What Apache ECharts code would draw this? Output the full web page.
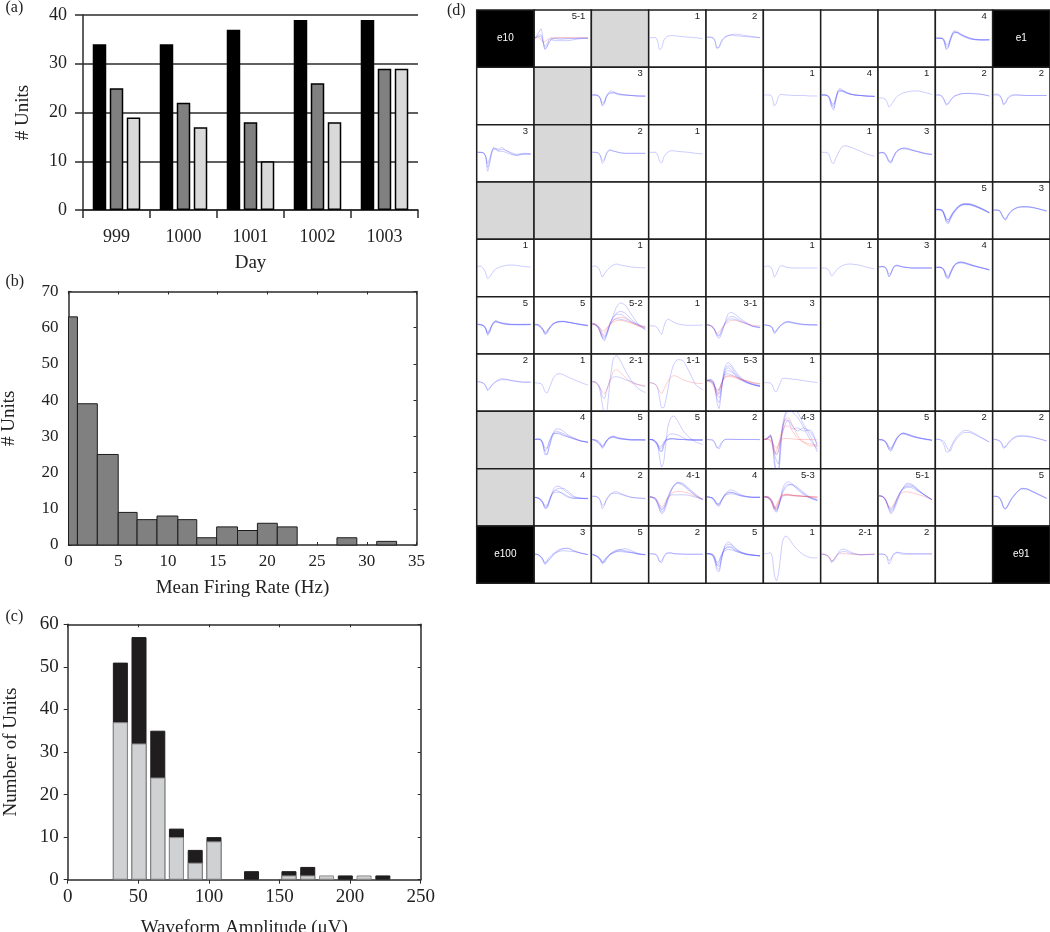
<!DOCTYPE html>
<html>
<head>
<meta charset="utf-8">
<title>Units</title>
<script src="https://cdn.jsdelivr.net/npm/echarts@6/dist/echarts.min.js"></script>
<style>
  html, body { margin: 0; padding: 0; background: #fff; }
  #chart { width: 1050px; height: 932px; }
</style>
</head>
<body>
<div id="chart"></div>
<script>
// (a) units per day
const days = ["999", "1000", "1001", "1002", "1003"];
const dayBlack = [34, 34, 37, 39, 39];
const dayGrey = [25, 22, 18, 26, 29];
const dayLight = [19, 17, 10, 18, 29];

// (b) firing rate histogram, bin edges as drawn in the figure
const rateLow = [0, 0.9, 2.9, 5, 6.9, 8.9, 11, 12.9, 14.9, 17, 19, 21, 27, 31];
const rateHigh = [0.9, 2.9, 5, 6.9, 8.9, 11, 12.9, 14.9, 17, 19, 21, 23, 29, 33];
const rateCounts = [63, 39, 25, 9, 7, 8, 7, 2, 5, 4, 6, 5, 2, 1];

// (c) amplitude histogram
const ampBins = [37.3, 50.5, 63.8, 77, 90.3, 103.6, 130.2, 156.7, 170, 183.3, 196.6, 209.9, 223.2];
const ampLight = [37, 32, 24, 10, 4, 9, 0, 1, 1, 1, 0, 1, 0];
const ampDark = [14, 25, 11, 2, 3, 1, 2, 1, 2, 0, 1, 0, 1];

// (d) electrode grid, "g" is a grey cell, "e.." a black corner cell
const cellLabels = [
  ["e10", "5-1", "g", "1", "2", "", "", "", "4", "e1"],
  ["", "g", "3", "", "", "1", "4", "1", "2", "2"],
  ["3", "g", "2", "1", "", "", "1", "3", "", ""],
  ["g", "g", "", "", "", "", "", "", "5", "3"],
  ["1", "", "1", "", "", "1", "1", "3", "4", ""],
  ["5", "5", "5-2", "1", "3-1", "3", "", "", "", ""],
  ["2", "1", "2-1", "1-1", "5-3", "1", "", "", "", ""],
  ["g", "4", "5", "5", "2", "4-3", "", "5", "2", "2"],
  ["g", "4", "2", "4-1", "4", "5-3", "", "5-1", "", "5"],
  ["e100", "3", "5", "2", "5", "1", "2-1", "2", "", "e91"]
];

// time samples of every waveform, denser around the spike
const sampleX = [1, 4, 7, 9, 11, 13, 15, 17, 19, 22, 25, 29, 34, 40, 47, 54];

// [row, col, amplitude at each sample]
const blueTraces = [
  [0, 1, [0.5, 5, 10, -1, -10, -8, -4, -1, 0, 0.5, 0.5, 0.5, 0.5, 0.5, 0.5, 0.5]],
  [0, 1, [0.5, 2, 2, -4, -11, -8, -3, -1, -1.5, -2, -2, -2, -2, -1, 0, 0.5]],
  [0, 1, [0.5, 3, 4, -3, -8, -5, -1, 0, 0, 0, -0.5, -0.5, 0, 0, 0.5, 0.5]],
  [0, 3, [1, 1, 1, -3, -11, -9, -2, 1, 2.5, 3, 3, 2.5, 2, 1.5, 1, 0]],
  [0, 4, [1.5, 1.5, 1, -2, -9, -9, -4, -1, 1, 3, 3.5, 3, 2.5, 2, 1.5, 1]],
  [0, 4, [1.5, 1.5, 0.5, -3, -10, -8, -3, 0, 2, 3, 4, 4.5, 4, 3, 2, 1]],
  [0, 8, [0.5, 0.5, 0, -3, -11, -9, -1, 5, 8, 7, 5, 3, 1, -0.5, -1, -1]],
  [0, 8, [0.5, 0.5, 0, -2, -8, -7, 0, 5, 7, 6, 4, 2, 0, -1, -1.5, -1]],
  [0, 8, [0.5, 0.5, 0.5, -1, -6, -5, -1, 4, 6, 6, 4.5, 2.5, 0.5, -1, -1.5, -1.5]],
  [0, 8, [0.5, 0.5, 0, -4, -10, -8, -2, 3, 6, 6, 4, 2, 0, -1, -1, -1]],

  [1, 2, [1, 1, 0, -3, -10, -8, -1, 3, 5, 4.5, 3, 2, 1, 0.5, 0, 0]],
  [1, 2, [1, 1, 0.5, -2, -7, -6, -1, 2, 3, 3, 2.5, 1.5, 1, 0.5, 0, -0.5]],
  [1, 2, [1, 1, 0, -3, -9, -6, 0, 2, 3, 3.5, 2, 1, 1, 0.5, 0, 0]],
  [1, 5, [1, 1, 1, -2, -10, -7, -1, 1.5, 1.5, 1, 1, 0.5, 0.5, 0.5, 0, 0]],
  [1, 6, [1, 1, 0, -3, -11, -14, -4, 5, 7.5, 6, 4, 2.5, 1, 0.5, 0, -0.5]],
  [1, 6, [1, 1, 0.5, -2, -8, -12, -5, 3, 5, 5, 4, 2, 1, 0.5, 0, -0.5]],
  [1, 6, [1, 1, 0, -4, -10, -9, -2, 4, 6, 5, 3.5, 2, 1, 0.5, 0, 0]],
  [1, 6, [1, 1, 0.5, -2, -7, -8, -3, 3, 5, 4.5, 3, 2, 1, 0.5, -0.5, -0.5]],
  [1, 7, [-2, -2, -3, -6, -11, -9, -6, -3, -0.5, 1.5, 3, 4, 5, 5, 3.5, 1.5]],
  [1, 8, [1, 1, -1, -5, -9, -7, -4, -2, 0, 1, 2, 2.5, 2.7, 2.5, 1.5, 0]],
  [1, 8, [1, 1, -0.5, -4, -8, -8, -5, -2, -0.5, 1, 2, 2.5, 2.5, 2, 1.5, 0]],
  [1, 9, [1, 2, 1, -3, -9, -6, -2, 0, 1, 1, 1, 0.5, 0.5, 0.5, 0.5, 0.5]],
  [1, 9, [1, 1, 0, -3, -8, -7, -3, -1, 0, 1, 1, 1, 0.5, 0.5, 0.5, 0.5]],

  [2, 0, [1, 1, 0, -4, -18, -10, 1, 5, 5, 4, 6, 3, 1, -1, 0, -0.5]],
  [2, 0, [1, 1, 0.5, -3, -14, -8, 0, 4, 4, 3, 4, 3, 0, -2, -0.5, -0.5]],
  [2, 0, [1, 1, 0, -3, -10, -5, 2, 6, 4, 2, 2, 1, -1, -2, -1, -1]],
  [2, 2, [1, 1, 0.5, -3, -10, -7, 0, 3, 3.5, 2, 1.5, 0.5, 0, 0, 0, 0]],
  [2, 2, [1, 1, 0, -2, -7, -6, -1, 2, 3, 2.5, 1.5, 0.5, 0, 0, 0, 0]],
  [2, 3, [1, 1, 1, -2, -8, -9.5, -4, -1, 1, 2.5, 2.5, 2, 1.5, 1, 0, -0.5]],
  [2, 6, [1, 1, 0.5, -3, -9, -10, -5, -1, 3, 7, 7.5, 6.5, 4.5, 2, -1, -3]],
  [2, 7, [0, 1, 0, -4, -9, -10, -5, -1, 2, 4, 5, 5, 3.5, 2, 0, -1]],
  [2, 7, [0, 0.5, 0, -3, -7, -9, -5, -1, 2, 4, 5.5, 5, 3, 1.5, 0, -1]],
  [2, 7, [0.5, 1, -1, -5, -8, -8, -4, 0, 2.5, 4.5, 4.5, 4, 3, 1.5, -0.5, -1.5]],

  [3, 8, [1, 1, 0, -5, -12, -13, -9, -5, -2, 2, 5, 7, 7, 5, 2, -2]],
  [3, 8, [1, 1, 0.5, -4, -10, -11, -8, -4, -1, 3, 5.5, 6.5, 6.5, 4.5, 1.5, -2]],
  [3, 8, [1.5, 1.5, 0.5, -3, -8, -9, -7, -3, 0, 3.5, 6, 7, 6, 4, 1, -2.5]],
  [3, 8, [1, 1, 0, -4, -10, -12, -7, -3, 0, 3.5, 5, 6, 6, 4, 1.5, -2]],
  [3, 8, [1, 1, -1, -5, -9, -9, -6, -3, -1, 2, 4.5, 6, 6, 5, 1.5, -2]],
  [3, 9, [0.7, 0.7, 0, -4, -8, -9.5, -6, -3, -0.5, 1.5, 3, 4, 4, 3.5, 1.5, -0.5]],
  [3, 9, [0.5, 0.5, -0.5, -4, -7, -8, -5, -2, 0, 2, 3.5, 4, 4, 3, 1.5, -0.5]],
  [3, 9, [0.7, 0.5, 0, -3, -7, -9, -5, -2, 0, 2, 3, 3.5, 3.5, 3, 1.5, 0]],

  [4, 0, [1.7, 1.7, -1, -5, -10.5, -9, -6, -3, -1, 0.5, 1.5, 2.5, 3, 2.5, 1.5, 1]],
  [4, 2, [1.5, 2, 0, -4, -9, -6, -3, -1, 1, 3, 4, 3, 2, 1, 0.5, 0]],
  [4, 5, [1, 2, 1, -2, -9, -6, -1, 2, 2.3, 1, 0.5, 0, 0, 0, 0, 0]],
  [4, 6, [0, 0, -1, -4, -8, -6, -3, -1, 1, 2.5, 3.5, 4, 3.5, 2.5, 0.5, -1]],
  [4, 7, [1, 1.5, 1, -3, -8.5, -6, 0, 2.5, 2.5, 2, 1, 0.5, 0, 0, 0, 0]],
  [4, 7, [1, 1, 0.5, -2, -6, -5, -1, 2, 2, 1.5, 1, 0.5, 0, 0, 0, 0]],
  [4, 7, [1, 1.5, 1, -2, -9, -5, 0, 2, 3, 2, 1, 0.5, 0, 0, 0, 0]],
  [4, 8, [0.5, 0.5, -0.5, -4, -10, -11, -6, -2, 2, 5, 6, 5.5, 4, 2, 0, -2]],
  [4, 8, [0.5, 0.5, 0, -3, -8, -10, -6, -1, 3, 5.5, 6, 5.5, 3.5, 1.5, 0, -1.5]],
  [4, 8, [1, 1, 0, -2, -7, -8, -4, 0, 3, 5, 5.5, 5, 3.5, 2, 0, -2]],
  [4, 8, [0.5, 1, 0, -3, -9, -9, -5, -1, 2.5, 4.5, 5, 4.5, 3, 1.5, 0, -2]],

  [5, 0, [1, 1, 0, -3, -10, -6, -1, 3, 5, 3.5, 2.5, 2, 1, 1, 1, 1]],
  [5, 0, [1, 0.5, -1, -4, -9, -7, -1, 2.5, 4, 3, 2, 1.5, 1, 0.5, 1, 1]],
  [5, 0, [0.5, 0.5, -1, -3, -7, -5, 0, 3, 3, 2.5, 2, 1, 1, 1, 0.5, 1]],
  [5, 0, [1, 0.5, -0.5, -3, -8, -4, 0, 2, 4, 3, 2, 1, 0.5, 0.5, 0.5, 0.5]],
  [5, 1, [1, 0.5, -2, -5, -9.5, -7, -4, -1, 1, 2.5, 3.5, 4, 3.5, 2, 1, 0]],
  [5, 1, [0.5, 0, -3, -5, -8, -8, -4, -1, 1, 3, 4, 4, 3, 2, 0.5, -0.5]],
  [5, 1, [1, 1, -1, -4, -8, -6, -3, -1, 1.5, 3, 3.5, 4, 3, 2, 0.5, -0.5]],
  [5, 1, [0.5, 0, -2, -4, -7, -5, -3, 0, 2, 3, 3.5, 3.5, 3, 2, 1, 0]],
  [5, 2, [1.5, 1, -2, -7, -13, -15.5, -11, -5, 2, 10, 18, 22.5, 20, 11, 1, -4.5]],
  [5, 2, [1.5, 1, -2, -6, -12, -14, -10, -4, 2, 8, 12, 14, 12, 6, 0, -4]],
  [5, 2, [1, 0, -3, -8, -12, -12, -9, -3, 3, 8, 11, 11, 8, 4, 0, -3]],
  [5, 2, [1.5, 1, -1, -4, -9, -11, -8, -3, 1, 5, 6.5, 6, 5, 3, 1, -2]],
  [5, 3, [-0.5, -0.5, -1, -3, -7, -9, -2, 4, 6, 5, 3, 1.5, 0.5, 0, 0, 0.3]],
  [5, 4, [0.5, 0, -2, -6, -11, -13, -10, -4, 3, 11, 13, 11, 7, 3, -1, -2.5]],
  [5, 4, [0.5, 0, -2, -5, -10, -11, -8, -3, 2, 7, 9, 8, 5, 2, -1, -2]],
  [5, 4, [0.5, 0, -2, -5, -9, -10, -6, -2, 2, 5, 6.5, 6, 4, 1.5, -1, -2]],
  [5, 5, [0.5, 0, -1, -3, -8.5, -6, -3, -1, 1, 3, 4, 3, 1.5, 1, 0.5, 0.5]],
  [5, 5, [0.5, 0, -1, -3, -7, -6, -2, -0.5, 1.5, 3.5, 3.5, 2, 1.5, 0.5, 0.5, 0]],
  [5, 5, [0.5, 0, -0.5, -2, -6, -5, -3, 0, 1, 2.5, 3, 3, 2, 1, 0.5, 0.5]],

  [6, 0, [1, 0.5, -1, -4, -8, -6, -3, -1, 1, 3, 4, 3.5, 2, 1, 0.5, 0.5]],
  [6, 0, [1, 0.5, -0.5, -3, -7, -5, -2.5, -0.5, 1, 2, 3, 3, 2.5, 1.5, 0.5, 0.5]],
  [6, 1, [0, -0.5, -1, -4, -9, -10.5, -6, -1, 4, 8, 9, 8, 5.5, 3, 0, -2.5]],
  [6, 2, [1, 0.5, -3, -10, -22, -30, -30, -15, 5, 24, 27, 22, 12, 2, -6, -10]],
  [6, 2, [1, 0.5, -2, -6, -14, -16, -9, -2, 3, 5.5, 6, 5, 3, 1, -2, -4]],
  [6, 3, [0, -0.5, -2, -6, -16, -25, -25, -18, -8, 8, 18, 23, 22, 12, -2, -7]],
  [6, 4, [2.5, 3, 1, -6, -20, -26, -12, 6, 16, 20, 18, 12, 6, 1, -2, -3]],
  [6, 4, [2.5, 2, 0, -6, -16, -20, -10, 4, 13, 17, 16, 10, 5, 1, -2, -3.5]],
  [6, 4, [2, 3, 2, -4, -12, -15, -8, 3, 11, 15, 13, 8, 4, 1, -1, -3]],
  [6, 4, [2, 2, 0, -5, -10, -11, -5, 3, 9, 12, 11, 8, 4, 0.5, -2, -4]],
  [6, 4, [2, 1, -1, -4, -7, -7, -2, 4, 8, 9, 8, 6, 3, 0, -2, -4]],
  [6, 5, [0, 0, -0.5, -2.5, -8, -9, -5, 0, 4, 4.3, 4, 3.5, 3, 2, 1, 0]],

  [7, 1, [0.5, 1, 0, -5, -15, -14, -7, 0, 7, 11, 11, 9, 5, 2, -1, -2.5]],
  [7, 1, [0.5, 1, 0.5, -4, -12, -15, -8, -1, 5, 9, 8, 6.5, 4, 1.5, -1, -2.5]],
  [7, 1, [0.5, 0.5, -0.5, -6, -11, -9, -3, 2, 6, 7, 7, 5, 3, 1, -1, -2]],
  [7, 1, [0.5, 1, 0, -3, -8, -8, -2, 3, 6, 6.5, 6, 4.5, 3, 1, -1, -2]],
  [7, 2, [0.5, -0.5, -3, -5, -8.5, -6, -2, 1, 3, 4, 3, 2, 1, 0.5, 0, 0]],
  [7, 2, [0.5, 0, -2, -4, -7, -5, -1, 1.5, 3, 3.5, 2.5, 1, 1, 0, 0, 0]],
  [7, 2, [0, -1, -3, -5, -7, -4, -1, 1, 2, 3, 2, 1, 0.5, 0, 0.5, 0]],
  [7, 2, [0.5, 0, -1, -3, -6, -4, -1, 1, 2, 2.5, 2, 1.5, 0.5, 0, 0, 0]],
  [7, 3, [0.5, 0, -2, -6, -18, -27, -22, -5, 12, 22, 24, 19, 10, 3, -2, -4.5]],
  [7, 3, [0.5, 0, -2, -5, -11, -12, -7, 0, 4, 6, 6, 5, 2.5, 0, 0, 0]],
  [7, 3, [0.5, 0, -3, -6, -10, -11, -5, -1, 0, 1, 1.5, 1, 0.5, 0, 0, 0]],
  [7, 3, [0.5, 0.5, -1, -4, -9, -8, -4, 0, 1, 1.5, 1, 0.5, 0.5, 0.5, 0, 0]],
  [7, 3, [0.5, 0, -2, -4, -7, -6, -2, 0, 0.5, 1, 1, 0.5, 0.5, 0, 0, 0]],
  [7, 4, [0.5, 0.5, 0, -3, -7, -9, -5, -1, 0.5, 0.7, 0.7, 0.5, 0.5, 0.5, 0.5, 0.5]],
  [7, 4, [0.5, 0, -0.5, -4, -8, -7, -3, -1, 0.5, 0.7, 0.7, 0.5, 0.5, 0.5, 0.5, 0.3]],
  [7, 5, [0.5, 2, 5, -2, -24, -32, -32, -15, 10, 24, 29, 29, 28, 16, 4, -12]],
  [7, 5, [0.5, 1, 5, -2, -18, -30, -30, -8, 14, 27, 30, 28, 23, 13, 0, -9]],
  [7, 5, [0.5, 2, 3, -3, -14, -20, -24, -5, 10, 20, 19, 11, 12, 9, 10, -7]],
  [7, 5, [0.5, 1, 4, -1, -10, -15, -12, 0, 8, 16, 20, 14, 9, 12, 8, -4]],
  [7, 7, [0.5, 0, -1.5, -5, -10, -11.5, -7, -3, 1, 5, 7, 6, 4, 2.5, 1, 0]],
  [7, 7, [0.5, 0, -1, -4, -8, -10, -7, -2, 2, 5.5, 7, 6, 4.5, 2.5, 1, -0.5]],
  [7, 7, [0.5, 0.5, -1, -3, -7, -8, -5, -2, 2, 5, 6.5, 5.5, 3.5, 2, 1, 0]],
  [7, 7, [0, 0, -2, -5, -9, -9, -5, -1, 2.5, 5.5, 6, 5, 3.5, 2, 0.5, -0.5]],
  [7, 8, [0.7, 0.5, -2, -6, -12, -12, -8, -4, 0, 4, 7, 9.5, 9, 6, 2, -2]],
  [7, 8, [0.7, 0.5, -0.5, -2, -6, -10, -11, -6, -2, 2, 5, 7.5, 7.5, 5, 1.5, -2]],
  [7, 9, [0.7, 0.5, -1, -4, -8.5, -6, -4, -2, 0, 2, 3.5, 4, 4, 3, 1, -1]],
  [7, 9, [0.7, 0, -1, -3, -7, -7, -4, -1, 1, 3, 4, 4, 3.5, 2.5, 1, -1]],

  [8, 1, [0, -0.5, -2, -6, -11.5, -10, -5, 1, 7, 11, 11, 8, 4, 0, -1, -1.5]],
  [8, 1, [0, -1, -3, -6, -10, -11, -6, 0, 5, 8, 9, 9, 6, 1, -1, -1.5]],
  [8, 1, [0, -1, -3, -6, -10, -9, -3, 2, 5, 7, 6, 3, 0, -1, -1, -1]],
  [8, 1, [0, -0.5, -3, -5, -8, -8, -4, 1, 4, 5, 5, 4, 1, -1, -1, -1]],
  [8, 2, [1, 1, -1, -4, -11.5, -8, -3, 0, 3, 5, 5.7, 4, 2, 0, -1, -1]],
  [8, 2, [1, 1, 0, -3, -8, -7, -2, 1, 3, 4, 4, 3, 1.5, 0, -0.5, -1.5]],
  [8, 3, [0.5, 0, -2, -6, -13, -16.5, -15, -10, -4, 5, 11, 14.5, 13, 8, 2, -2.5]],
  [8, 3, [0.5, -0.5, -3, -7, -12, -15, -13, -8, -2, 6, 11, 14, 12, 7, 1.5, -2.5]],
  [8, 3, [0.5, 0, -2, -6, -10, -12, -10, -6, -1, 2, 2.5, 2.5, 2.5, 2, 0, -2]],
  [8, 3, [0.5, 0, -1, -5, -9, -13, -11, -7, 0, 7, 12, 15, 14, 9, 3, -2]],
  [8, 4, [0.5, 0, -2, -5, -8, -9, -5, -1, 3, 6, 7.5, 6, 3, 1, 0, 0]],
  [8, 4, [0.5, 0, -1, -4, -7, -8, -4, 0, 3, 5, 5, 4, 2, 0.5, 0, 0]],
  [8, 4, [0.5, 0, -1, -3, -6, -7, -3, 0, 2, 3, 3.5, 3, 1.5, 0.5, 0, 0]],
  [8, 4, [0.5, 0, -1, -4, -7, -6, -4, -1, 2, 4, 5, 4, 2, 1, 0, 0]],
  [8, 5, [0.5, 0, -3, -7, -13, -15, -10, -2, 8, 14, 15.5, 13, 8, 3, -1, -3]],
  [8, 5, [0.5, 0, -2, -5, -11, -14, -10, -3, 5, 11, 13, 12, 9, 4, -0.5, -3.5]],
  [8, 5, [0.5, -0.5, -2, -6, -10, -13, -10, -3, 4, 9, 12, 13, 10, 5, 0, -3]],
  [8, 5, [0.5, 1, -1, -4, -9, -12, -8, -3, 0.5, 2, 2.5, 2, 1.5, 1, 0, -2]],
  [8, 7, [1.5, 1, -2, -7, -13, -16.5, -14, -10, -5, 3, 9, 14, 13, 8, 2, -2.5]],
  [8, 7, [1.5, 1, -1, -6, -11, -15, -13, -8, -3, 4, 9, 12.5, 12, 7, 2, -2.5]],
  [8, 7, [1.5, 1, -2, -6, -11, -13, -11, -7, -2, 5, 9, 11, 11, 7, 2, -2.5]],
  [8, 7, [1.5, 1, -1, -5, -10, -12, -10, -6, -1, 5, 8, 10, 9.5, 6, 2, -2]],
  [8, 9, [1, 1, -0.5, -5, -11, -11.5, -9, -5, -2, 2, 5.5, 8.5, 8.5, 6, 2.5, -1]],
  [8, 9, [1, 0.8, -1, -5, -10, -11, -9, -5, -1, 2.5, 6, 9, 8.5, 5.5, 2, -1.2]],
  [8, 9, [1, 1, -1, -4, -10, -11.5, -8, -4, -1, 3, 6, 8.5, 8, 5.5, 2.5, -1]],

  [9, 1, [0.5, 0, -3, -6, -10, -8, -5, -3, -1, 2, 4, 6, 6.5, 4, 1.5, 0]],
  [9, 1, [0.5, 0, -2, -5, -8, -7, -5, -3, 0, 2, 3, 4, 3.5, 3, 1.5, 0]],
  [9, 1, [0.5, 0, -2, -5, -9, -6, -3, -1, 1, 3, 5, 6, 6, 3.5, 1.5, 0]],
  [9, 2, [0, -0.5, -3, -6, -9, -7, -4, -2, 0, 2.5, 4, 5, 6, 4, 1, 0]],
  [9, 2, [0, -1, -3, -5, -8, -8, -5, -2, 0, 1.5, 3, 4, 3, 2, 0.5, 0]],
  [9, 2, [0.5, -1, -2, -4, -7, -6, -3, -1, 1, 3, 4.5, 5, 4, 2.5, 1, -0.5]],
  [9, 2, [0, -1, -3, -5, -8, -5, -3, -1, 1, 2, 3, 3, 2.5, 2, 0.5, 0]],
  [9, 3, [1, 0.5, 0.5, -2, -7, -8, -3, 0, 1.5, 1.5, 1, 0.5, 0.5, 0.5, 0.5, 0.5]],
  [9, 3, [1, 1, 0, -3, -7, -6, -2, 1, 1.5, 2, 1, 1, 0.5, 0.3, 0.3, 0.3]],
  [9, 4, [1, 0.5, -2, -8, -16, -17, -8, 2, 9, 12.5, 11, 7, 3, 1, -0.5, -1.5]],
  [9, 4, [1, 1, -1, -6, -13, -15, -6, 3, 8, 10, 10, 6, 3, 0.5, -0.5, -1]],
  [9, 4, [1, 0.5, -1, -5, -10, -12, -5, 2, 6, 8, 8, 5, 2.5, 0.5, -0.5, -1]],
  [9, 4, [1, 1, 0, -4, -11, -8, -2, 3, 6, 7, 7, 4, 2, 0.5, -0.5, -1.5]],
  [9, 4, [1, 0.5, 0, -3, -8, -6, -1, 2, 4, 5, 5, 3.5, 2, 0, -0.5, -1]],
  [9, 5, [1, 1, 2, -3, -20, -26, -20, -4, 12, 18.5, 17, 11, 5, 0, -3, -3.3]],
  [9, 6, [0.5, 0, -2, -4, -8, -5, -2, 1, 4, 5.5, 5, 3, 1, 0, 0, 0.5]],
  [9, 6, [0.5, 0, -1, -3, -6, -6, -3, 0, 2, 3, 3, 1.5, 0.5, 0, 0, 0]],
  [9, 7, [0.5, 0.5, 0, -3, -9.5, -6, -1, 1, 2, 2, 1.5, 1, 1, 1, 1, 1]],
  [9, 7, [0.5, 0.5, 0, -2, -6, -4, 0, 1.5, 2.5, 1, 0.5, 0.5, 0.5, 0.5, 0.5, 0.5]]
];

const redTraces = [
  [0, 1, [1, 1, -1, -3, -3, -1, 0, 1, 1, 1, 1, 1, 1, 1, 1, 1]],
  [5, 2, [1.5, 0.5, -3, -7, -10, -8, -5, -1, 2, 5, 7, 8, 7, 3, -1, -2]],
  [5, 2, [1.5, 1, -1, -3, -6, -5, -3, -1, 1, 3, 4.5, 5, 4, 2, 0, -1]],
  [5, 4, [0.5, 0, -3, -6, -8, -7, -4, -1, 1, 3, 5, 5, 3.5, 2, 0, -0.5]],
  [6, 2, [1, 0, -3, -6, -9, -11, -8, -3, 3, 11, 13, 10, 5, 0, -2, -3]],
  [6, 3, [0, -0.5, -2, -5, -9, -11, -7, -3, 1, 5, 7, 6, 3, 1, -0.5, -1]],
  [6, 4, [2, 1, -3, -8, -13, -9, -2, 3, 6, 7, 7, 6, 4, 2, 0, -1]],
  [6, 4, [2, 2, 0, -5, -9, -7, -2, 2, 5, 6, 6, 5, 3, 2, 0, -1.5]],
  [7, 5, [0.5, 1, -1, -6, -13, -11, -5, 3, 12, 21, 22, 15, 5, -2, -6, -6]],
  [7, 5, [0.5, 2, 4, -2, -10, -14, -10, -1, 6, 14, 14, 9, 2, -2, -4, -5]],
  [7, 5, [0.5, 0.5, 0, -3, -6, -8, -5, -1, 1, 1.5, 1.5, 1, 0.5, 0.5, 0.5, 0]],
  [8, 3, [0.5, 0, -1, -4, -7, -10, -8, -4, 0, 3, 5, 6, 5.5, 4, 1, -1.5]],
  [8, 5, [0.5, 0.5, -2, -6, -11, -8, -4, 0, 2, 2, 2.5, 2, 2, 1, 0.5, 0]],
  [8, 5, [0.5, 0, -3, -7, -12, -10, -5, -1, 2, 3, 3, 2, 1.5, 1, 0.5, 0.5]],
  [8, 5, [0, 0.5, -1, -4, -9, -11, -7, -1, 2, 3, 2, 1.5, 1, 1, 0.5, 0]],
  [8, 7, [1, 1, -2, -6, -10, -10, -8, -5, -1, 3, 5, 5.5, 4.5, 3, 0.5, -2.5]],
  [9, 6, [0.7, 0.5, -1, -3, -7, -5, -2, 0, 1, 1, 1, 0.5, 0.5, -0.5, 0.5, 0.7]]
];

const serif = "Liberation Serif";
const sans = "Liberation Sans";
const axisColor = "#2b2b2b";

const grids = [];
const xAxes = [];
const yAxes = [];
const series = [];
const texts = [];

function addGrid(left, top, width, height, extra) {
  grids.push(Object.assign({ left, top, width, height, outerBoundsMode: "none" }, extra));
  return grids.length - 1;
}

function axisLine() {
  return { show: true, onZero: false, lineStyle: { color: axisColor, width: 1.5 } };
}

function addText(text, x, y, font, color, align) {
  texts.push({
    type: "text",
    silent: true,
    z: 100,
    style: { text, x, y, font, fill: color || "#222", align: align || "left", verticalAlign: "middle" }
  });
}

// value axes of panels (b) and (c), the top and right ones only carry ticks
function boxAxes(gridIndex, xMax, xStep, yMax, yStep, xName, yName, opt) {
  const labelStyle = { fontFamily: serif, fontSize: opt.labelSize, color: "#222" };
  const nameStyle = { fontFamily: serif, fontSize: 19, color: "#222" };
  const base = { gridIndex, type: "value", splitLine: { show: false }, axisLine: axisLine() };
  const inner = { show: true, inside: true, length: 3, lineStyle: { color: axisColor, width: 1 } };
  const outer = opt.outerTicks
    ? { show: true, inside: false, length: 4, lineStyle: { color: axisColor, width: 1 } }
    : inner;
  xAxes.push(Object.assign({}, base, {
    position: "bottom", min: 0, max: xMax, interval: xStep,
    axisTick: outer,
    axisLabel: Object.assign({ margin: opt.xMargin }, labelStyle),
    name: xName, nameLocation: "middle", nameGap: opt.xNameGap, nameTextStyle: nameStyle
  }));
  const bottomIndex = xAxes.length - 1;
  xAxes.push(Object.assign({}, base, {
    position: "top", min: 0, max: xMax, interval: xStep, axisTick: inner, axisLabel: { show: false }
  }));
  yAxes.push(Object.assign({}, base, {
    position: "left", min: 0, max: yMax, interval: yStep,
    axisTick: outer,
    axisLabel: Object.assign({ margin: opt.yMargin }, labelStyle),
    name: yName, nameLocation: "middle", nameGap: opt.yNameGap, nameTextStyle: nameStyle
  }));
  const leftIndex = yAxes.length - 1;
  yAxes.push(Object.assign({}, base, {
    position: "right", min: 0, max: yMax, interval: yStep, axisTick: inner, axisLabel: { show: false }
  }));
  return { xAxisIndex: bottomIndex, yAxisIndex: leftIndex };
}

// panel (a)
const gridA = addGrid(83, 15, 335, 195);
xAxes.push({
  gridIndex: gridA, type: "category", data: days,
  axisLine: axisLine(),
  axisTick: { show: true, length: 8, lineStyle: { color: axisColor, width: 1.5 } },
  axisLabel: { margin: 18, fontFamily: serif, fontSize: 18, color: "#222" },
  name: "Day", nameLocation: "middle", nameGap: 44,
  nameTextStyle: { fontFamily: serif, fontSize: 19, color: "#222" }
});
yAxes.push({
  gridIndex: gridA, type: "value", min: 0, max: 40, interval: 10,
  axisLine: axisLine(),
  axisTick: { show: true, length: 8, lineStyle: { color: axisColor, width: 1.5 } },
  splitLine: { show: true, lineStyle: { color: axisColor, width: 1.5 } },
  axisLabel: { margin: 16, fontFamily: serif, fontSize: 18, color: "#222" },
  name: "# Units", nameLocation: "middle", nameGap: 50,
  nameTextStyle: { fontFamily: serif, fontSize: 19, color: "#222" }
});
[[dayBlack, "#000000"], [dayGrey, "#808080"], [dayLight, "#d9d9d9"]].forEach(function (item) {
  series.push({
    type: "bar", xAxisIndex: xAxes.length - 1, yAxisIndex: yAxes.length - 1,
    data: item[0], barWidth: 13.5, barGap: "26%", z: 3,
    itemStyle: { color: item[1], borderColor: "#000", borderWidth: 1.5 }
  });
});

// panel (b)
const gridB = addGrid(68.5, 291.5, 348, 253.5);
const axesB = boxAxes(gridB, 35, 5, 70, 10, "Mean Firing Rate (Hz)", "# Units", {
  labelSize: 17, xMargin: 8, xNameGap: 34, yMargin: 10, yNameGap: 50
});
series.push({
  type: "custom", xAxisIndex: axesB.xAxisIndex, yAxisIndex: axesB.yAxisIndex,
  data: rateLow.map(function (x, i) { return [x, rateHigh[i], rateCounts[i]]; }),
  encode: { x: [0, 1], y: 2 },
  z: 1,
  renderItem: function (params, api) {
    const a = api.coord([api.value(0), api.value(2)]);
    const b = api.coord([api.value(1), 0]);
    return {
      type: "rect",
      shape: { x: a[0], y: a[1], width: b[0] - a[0], height: b[1] - a[1] },
      style: { fill: "#808080", stroke: "#1c1c1c", lineWidth: 1 }
    };
  }
});

// panel (c), the dark part is drawn up to the total and the light part over it
const gridC = addGrid(67.7, 624.3, 353, 255.4);
const axesC = boxAxes(gridC, 250, 50, 60, 10, "Waveform Amplitude (μV)", "Number of Units", {
  labelSize: 19, xMargin: 8, xNameGap: 39, yMargin: 9, yNameGap: 47, outerTicks: true
});
series.push({
  type: "bar", xAxisIndex: axesC.xAxisIndex, yAxisIndex: axesC.yAxisIndex,
  data: ampBins.map(function (x, i) { return [x, ampDark[i] ? ampLight[i] + ampDark[i] : null]; }),
  barWidth: 15, barGap: "-100%", z: 1,
  itemStyle: { color: "#1f1d1e", borderColor: "#1f1d1e", borderWidth: 1 }
});
series.push({
  type: "bar", xAxisIndex: axesC.xAxisIndex, yAxisIndex: axesC.yAxisIndex,
  data: ampBins.map(function (x, i) { return [x, ampLight[i] || null]; }),
  barWidth: 15, barGap: "-100%", z: 2,
  itemStyle: { color: "#cfd1d2", borderColor: "#8c8c8c", borderWidth: 1 }
});

addText("(a)", 5.5, 8, "16px " + serif);
addText("(b)", 5.5, 282, "16px " + serif);
addText("(c)", 5.5, 617, "16px " + serif);
addText("(d)", 447, 11, "16px " + serif);

// panel (d)
const cellLeft = 476.7;
const cellTop = 10;
const cellSize = 57.33;
const cellIndex = {};

cellLabels.forEach(function (row, r) {
  row.forEach(function (label, c) {
    const isCorner = label.charAt(0) === "e";
    const isGrey = label === "g";
    const x = cellLeft + c * cellSize;
    const y = cellTop + r * cellSize;
    const g = addGrid(x, y, cellSize, cellSize, {
      show: true,
      z: isCorner ? 3 : 2,
      backgroundColor: isCorner ? "#000" : isGrey ? "#d8d8d8" : "#fff",
      borderColor: "#1e1e1e",
      borderWidth: 1.5
    });
    xAxes.push({ gridIndex: g, type: "value", show: false, min: 0, max: cellSize });
    yAxes.push({ gridIndex: g, type: "value", show: false, min: -cellSize / 2, max: cellSize / 2 });
    cellIndex[r + "-" + c] = { x: xAxes.length - 1, y: yAxes.length - 1 };
    if (isCorner) {
      addText(label, x + cellSize / 2, y + cellSize / 2, "10px " + sans, "#fff", "center");
    } else if (label && !isGrey) {
      addText(label, x + cellSize - 6, y + 6.5, "9.5px " + sans, "#222", "right");
    }
  });
});

function addTraces(list, color) {
  list.forEach(function (t) {
    const cell = cellIndex[t[0] + "-" + t[1]];
    series.push({
      type: "line", xAxisIndex: cell.x, yAxisIndex: cell.y,
      data: sampleX.map(function (x, i) { return [x, t[2][i]]; }),
      showSymbol: false, smooth: 0.25, silent: true, z: 5,
      lineStyle: { color, width: 0.9 }
    });
  });
}
addTraces(blueTraces, "rgba(70,70,255,0.3)");
addTraces(redTraces, "rgba(255,70,70,0.3)");

const chart = echarts.init(document.getElementById("chart"));
chart.setOption({
  animation: false,
  backgroundColor: "#fff",
  grid: grids,
  xAxis: xAxes,
  yAxis: yAxes,
  series: series,
  graphic: texts
});
</script>
</body>
</html>
